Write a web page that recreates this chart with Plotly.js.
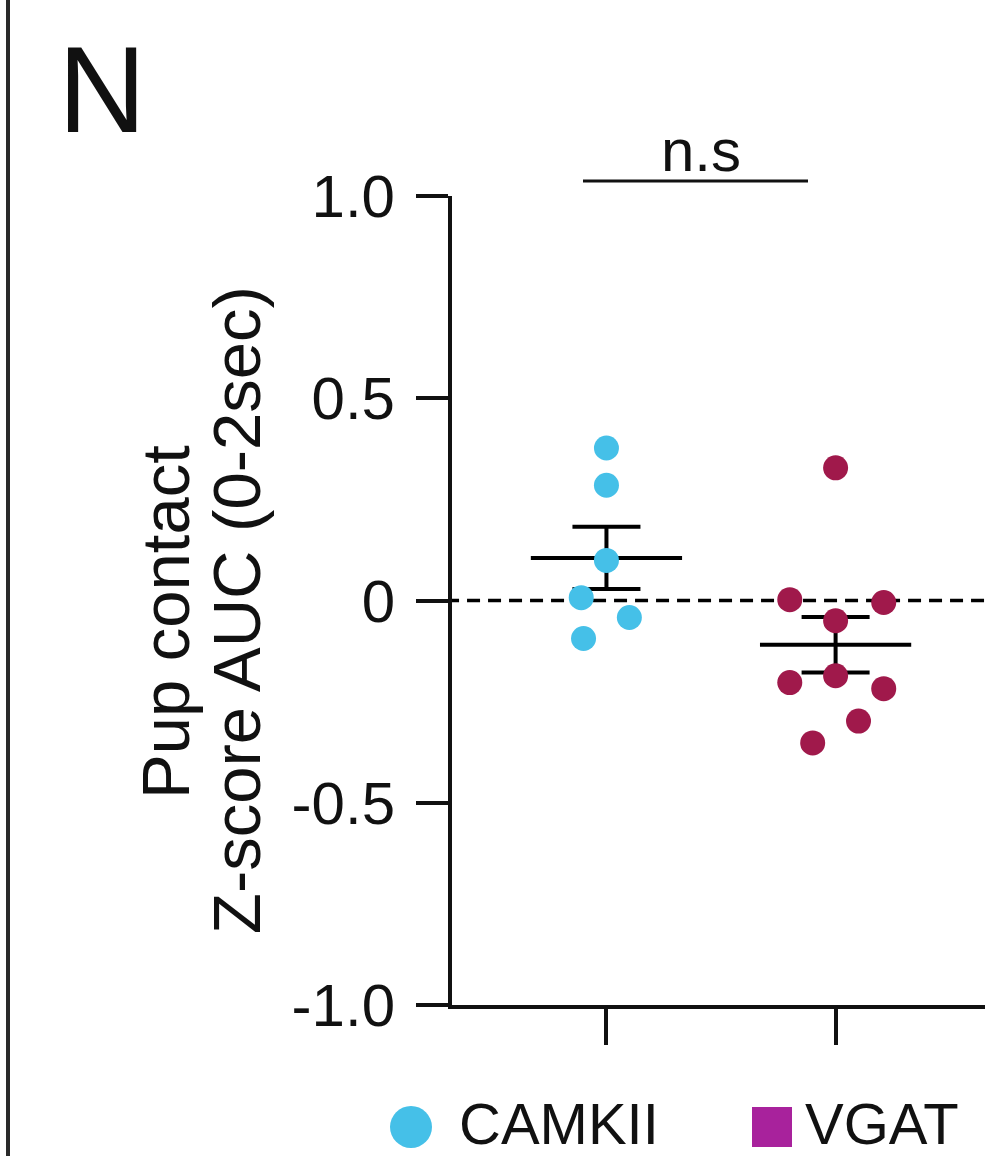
<!DOCTYPE html>
<html>
<head>
<meta charset="utf-8">
<script src="https://cdn.plot.ly/plotly-3.0.1.min.js"></script>
<style>html,body{margin:0;padding:0;background:#fff;}#chart{width:985px;height:1156px;}</style>
</head>
<body>
<div id="chart"></div>
<script>
// ---- data ----
var groups = ['CAMKII', 'VGAT'];
var groupPos = [0, 1];
var camkiiValues = [0.377, 0.285, 0.099, 0.007, -0.042, -0.094];
var camkiiJitter = [0, 0, 0, -0.11, 0.10, -0.10];
var vgatValues = [0.328, 0.002, -0.005, -0.050, -0.203, -0.186, -0.218, -0.298, -0.352];
var vgatJitter = [0, -0.20, 0.21, 0, -0.20, 0, 0.21, 0.10, -0.10];
var yTickVals = [-1, -0.5, 0, 0.5, 1];
var yTickText = ['-1.0', '-0.5', '0', '0.5', '1.0'];
var sigLabel = 'n.s';

var W = 985, H = 1156;
var mL = 452, mR = 0, mT = 196, mB = 151;
var pw = W - mL - mR, ph = H - mT - mB;
function px(x) { return (x - mL) / pw; }
function py(y) { return (H - mB - y) / ph; }

var FONT = 'Liberation Sans, Arial, sans-serif';
var cyan = '#45C0E8';
var maroon = '#A0194B';
var legendPurple = '#A8229C';

function mean(a) { return a.reduce(function (s, v) { return s + v; }, 0) / a.length; }
function sem(a) {
  var m = mean(a);
  var v = a.reduce(function (s, x) { return s + (x - m) * (x - m); }, 0) / (a.length - 1);
  return Math.sqrt(v) / Math.sqrt(a.length);
}

var sets = [
  { vals: camkiiValues, jit: camkiiJitter, color: cyan, pos: groupPos[0] },
  { vals: vgatValues, jit: vgatJitter, color: maroon, pos: groupPos[1] }
];

var traces = [];
// dashed zero line
traces.push({
  x: [-0.7, 1.7], y: [0, 0], mode: 'lines', showlegend: false, hoverinfo: 'skip',
  line: { color: '#000', width: 3.5, dash: '13px,8px' }
});
sets.forEach(function (s, i) {
  var m = mean(s.vals), e = sem(s.vals);
  traces.push({
    x: [s.pos - 0.33, s.pos + 0.33], y: [m, m], mode: 'lines', showlegend: false,
    line: { color: '#000', width: 4 }, hoverinfo: 'skip'
  });
  traces.push({
    x: [s.pos], y: [m], mode: 'markers', showlegend: false, marker: { opacity: 0, size: 1 },
    error_y: { type: 'data', array: [e], visible: true, color: '#000', thickness: 4, width: 34 },
    hoverinfo: 'skip'
  });
});
sets.forEach(function (s, i) {
  traces.push({
    name: groups[i],
    x: s.vals.map(function (v, k) { return s.pos + s.jit[k]; }),
    y: s.vals, mode: 'markers', showlegend: false,
    marker: { color: s.color, size: 25, line: { width: 0 } }
  });
});

var layout = {
  width: W, height: H,
  margin: { l: mL, r: mR, t: mT, b: mB, pad: 0 },
  paper_bgcolor: '#fff', plot_bgcolor: '#fff',
  showlegend: false,
  font: { family: FONT, color: '#111' },
  xaxis: {
    range: [-0.674, 1.652], showgrid: false, zeroline: false,
    showline: true, linecolor: '#111', linewidth: 4,
    ticks: 'outside', ticklen: 36, tickwidth: 4, tickcolor: '#111',
    tickvals: groupPos, showticklabels: false, fixedrange: true
  },
  yaxis: {
    range: [-1, 1], showgrid: false, zeroline: false,
    showline: true, linecolor: '#111', linewidth: 4,
    ticks: 'outside', ticklen: 32, tickwidth: 4, tickcolor: '#111',
    tickvals: yTickVals, ticktext: yTickText,
    tickfont: { family: FONT, size: 60, color: '#111' },
    ticklabelstandoff: 9,
    fixedrange: true
  },
  shapes: [
    // panel border on the left
    { type: 'line', xref: 'paper', yref: 'paper', x0: px(8), x1: px(8), y0: py(0), y1: py(H),
      line: { color: '#2a2a2a', width: 4 } },
    // significance bar
    { type: 'line', xref: 'paper', yref: 'paper', x0: px(583), x1: px(808), y0: py(181), y1: py(181),
      line: { color: '#111', width: 3 } },
    // legend symbols
    { type: 'circle', xref: 'paper', yref: 'paper', x0: px(390), x1: px(432), y0: py(1106), y1: py(1148),
      fillcolor: cyan, line: { width: 0 } },
    { type: 'rect', xref: 'paper', yref: 'paper', x0: px(752), x1: px(792), y0: py(1107), y1: py(1147),
      fillcolor: legendPurple, line: { width: 0 } }
  ],
  annotations: [
    { text: 'N', xref: 'paper', yref: 'paper', x: px(102), y: py(90), xanchor: 'center', yanchor: 'middle',
      showarrow: false, font: { family: FONT, size: 122, color: '#111' } },
    { text: sigLabel, xref: 'paper', yref: 'paper', x: px(701), y: py(150), xanchor: 'center', yanchor: 'middle',
      showarrow: false, font: { family: FONT, size: 60, color: '#111' } },
    { text: 'Pup contact', xref: 'paper', yref: 'paper', x: px(165), y: py(622), xanchor: 'center', yanchor: 'middle',
      textangle: -90, showarrow: false, font: { family: FONT, size: 67, color: '#111' } },
    { text: 'Z-score AUC (0-2sec)', xref: 'paper', yref: 'paper', x: px(236), y: py(610), xanchor: 'center', yanchor: 'middle',
      textangle: -90, showarrow: false, font: { family: FONT, size: 67, color: '#111' } },
    { text: groups[0], xref: 'paper', yref: 'paper', x: px(457), y: py(1123), xanchor: 'left', yanchor: 'middle',
      height: 44, valign: 'middle',
      showarrow: false, font: { family: FONT, size: 58, color: '#111' } },
    { text: groups[1], xref: 'paper', yref: 'paper', x: px(803), y: py(1123), xanchor: 'left', yanchor: 'middle',
      height: 44, valign: 'middle',
      showarrow: false, font: { family: FONT, size: 58, color: '#111' } }
  ]
};

Plotly.newPlot('chart', traces, layout, { displayModeBar: false, staticPlot: true });
</script>
</body>
</html>
